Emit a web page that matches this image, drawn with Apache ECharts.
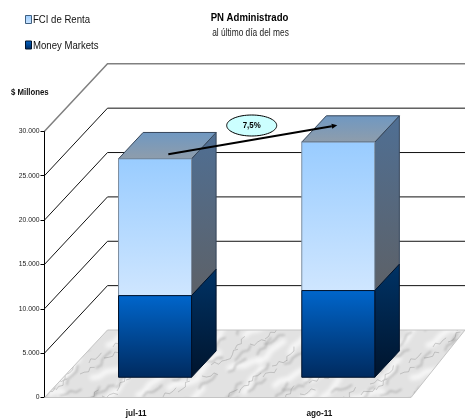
<!DOCTYPE html>
<html><head><meta charset="utf-8">
<style>html,body{margin:0;padding:0;background:#fff}#c{width:465px;height:420px}</style>
<script src="https://cdn.jsdelivr.net/npm/echarts@6/dist/echarts.min.js"></script>
</head><body><div id="c"></div>
<script>
var categories = ['jul-11', 'ago-11'];
var moneyMarkets = [9200, 9770];
var fciRenta = [15420, 16730];
var yTicks = [0, 5000, 10000, 15000, 20000, 25000, 30000];
var seriesNames = ['FCI de Renta', 'Money Markets'];
var titleText = 'PN Administrado';
var subtitleText = 'al último día del mes';
var yAxisName = '$ Millones';
var growthLabel = '7,5%';

var FONT = '"Liberation Sans",Arial,sans-serif';
var NARROW = 0.82;
var DEPTH_X = 63, DEPTH_Y = 67.5, BAR_NEAR = 0.3, BAR_FAR = 0.69, BAR_W = 73;

function grad(a, b) { return new echarts.graphic.LinearGradient(0,0,0,1,[{offset:0,color:a},{offset:1,color:b}]); }

function marble() {
  var c = document.createElement('canvas'); c.width = 320; c.height = 120;
  var g = c.getContext('2d');
  g.fillStyle = '#e2e2e2'; g.fillRect(0,0,320,120);
  function veins(count, col, width, seg, len, wob, a, b) {
    g.strokeStyle = col; g.lineWidth = width;
    for (var n = 0; n < count; n++) {
      var x = (n*a+13)%320, y = (n*b+7)%120, dir = -0.6 + 0.35*Math.sin(n*1.9);
      for (var ox = -320; ox <= 320; ox += 320) {
        for (var oy = -120; oy <= 120; oy += 120) {
          var px = x+ox, py = y+oy, d = dir;
          g.beginPath(); g.moveTo(px,py);
          for (var k = 0; k < seg; k++) { d = dir + wob*Math.sin(n*3.1+k*2.3); px += len*Math.cos(d); py += len*Math.sin(d); g.lineTo(px,py); }
          g.stroke();
        }
      }
    }
  }
  g.filter = 'blur(2px)';
  veins(40, 'rgba(255,255,255,0.8)', 5, 4, 9, 0.3, 61, 43);
  g.filter = 'blur(1.2px)';
  veins(70, 'rgba(140,140,140,0.5)', 1.6, 4, 6, 0.5, 47, 29);
  g.filter = 'blur(0.3px)';
  veins(80, 'rgba(110,110,110,0.5)', 0.6, 4, 4.5, 0.7, 37, 17);
  return c;
}
var marbleTex = marble();

function project(api, cat, frac, depth, val) {
  var p = api.coord([cat, val]);
  return [p[0] + frac * BAR_W / 2 + depth * DEPTH_X, p[1] - depth * DEPTH_Y];
}
function poly(points, fill, edge) { return {type:'polygon', shape:{points:points}, style:{fill:fill, stroke:edge, lineWidth:1}}; }

function prism(api, cat, lo, hi, st) {
  function P(f,d,v){ return project(api,cat,f,d,v); }
  var front=[P(-1,BAR_NEAR,hi),P(1,BAR_NEAR,hi),P(1,BAR_NEAR,lo),P(-1,BAR_NEAR,lo)];
  var side=[P(1,BAR_NEAR,hi),P(1,BAR_FAR,hi),P(1,BAR_FAR,lo),P(1,BAR_NEAR,lo)];
  var top=[P(-1,BAR_NEAR,hi),P(-1,BAR_FAR,hi),P(1,BAR_FAR,hi),P(1,BAR_NEAR,hi)];
  var kids=[poly(side,grad(st.side[0],st.side[1]),st.edge)];
  if (st.top) kids.push(poly(top,grad(st.top[0],st.top[1]),st.edge));
  kids.push(poly(front,grad(st.front[0],st.front[1]),st.frontEdge||st.edge));
  return {type:'group', children:kids};
}

var styleMM = {front:['#0066cc','#002a5e'], side:['#003366','#00142c'], edge:'#00122a'};
var styleFCI = {front:['#99ccff','#cfe6ff'], side:['#4f6f94','#5d6167'], top:['#6f98c2','#8f9dab'], edge:'#36465a', frontEdge:'#7d8ea0'};

var totals = moneyMarkets.map(function(v,i){ return v + fciRenta[i]; });

function narrowText(text, x, y, size, weight, color, align) {
  return {type:'text', x:x, y:y, scaleX:NARROW, silent:true,
    style:{x:0, y:0, text:text, align:align, verticalAlign:'middle', font:weight+' '+size+'px '+FONT, fill:color}};
}

var option = {
  animation:false,
  backgroundColor:'#fff',
  textStyle:{fontFamily:FONT},
  graphic:[
    narrowText(titleText, 249.5, 18, 11.7, 'bold', '#000', 'center'),
    narrowText(subtitleText, 250.5, 33, 10.2, 'normal', '#222', 'center'),
    narrowText(yAxisName, 11, 92, 9.5, 'bold', '#111', 'left'),
    {type:'rect', shape:{x:25.5,y:15.5,width:6,height:8}, silent:true, style:{fill:grad('#99ccff','#cfe6ff'),stroke:'#3f5f80',lineWidth:1}},
    narrowText(seriesNames[0], 33, 20, 11.7, 'normal', '#111', 'left'),
    {type:'rect', shape:{x:25.5,y:41,width:6,height:8}, silent:true, style:{fill:grad('#0066cc','#002a5e'),stroke:'#00122a',lineWidth:1}},
    narrowText(seriesNames[1], 33, 46, 11.7, 'normal', '#111', 'left')
  ],
  grid:{left:44.5, top:131.3, right:54, bottom:22.5, containLabel:false},
  xAxis:{type:'category', data:categories, axisLine:{show:false}, axisTick:{show:false},
    axisLabel:{fontFamily:FONT,fontSize:8.2,fontWeight:'bold',color:'#111',margin:12}, splitLine:{show:false}},
  yAxis:{type:'value', min:0, max:30000, interval:5000,
    axisLine:{show:true,lineStyle:{color:'#000',width:1}},
    axisTick:{show:true,length:4,lineStyle:{color:'#000',width:1}},
    axisLabel:{fontFamily:FONT,fontSize:6.8,color:'#222',margin:5,
      formatter:function(v){ return String(v).replace(/\B(?=(\d{3})+$)/g,'.'); }},
    splitLine:{show:false}},
  series:[
    {type:'custom', name:'floor', silent:true, z:1, data:[[0,0]],
     renderItem:function(params,api){
       var cs=params.coordSys, bottom=api.coord([0,yTicks[0]])[1], l=cs.x, r=cs.x+cs.width;
       return {type:'polygon', shape:{points:[[l,bottom],[r,bottom],[r+DEPTH_X-9,bottom-DEPTH_Y],[l+DEPTH_X,bottom-DEPTH_Y]]},
         style:{fill:{image:marbleTex,repeat:'repeat'},stroke:'#c4c4c4',lineWidth:1}};
     }},
    {type:'custom', name:'walls', silent:true, z:2, data:yTicks.map(function(v){return [0,v];}),
     renderItem:function(params,api){
       var v=api.value(1); if(v===0) return;
       var cs=params.coordSys, y=api.coord([0,v])[1], l=cs.x;
       return {type:'polyline', shape:{points:[[l,y],[l+DEPTH_X,y-DEPTH_Y],[465,y-DEPTH_Y]]},
         style:{fill:null,stroke:v===30000?'#808080':'#111',lineWidth:v===30000?1.5:1}};
     }},
    {type:'custom', name:seriesNames[0], z:3,
     data:fciRenta.map(function(v,i){return [i,moneyMarkets[i],moneyMarkets[i]+v];}),
     renderItem:function(params,api){ return prism(api,api.value(0),api.value(1),api.value(2),styleFCI); }},
    {type:'custom', name:seriesNames[1], z:4,
     data:moneyMarkets.map(function(v,i){return [i,0,v];}),
     renderItem:function(params,api){ return prism(api,api.value(0),api.value(1),api.value(2),styleMM); }},
    {type:'custom', name:'growth', silent:true, z:5, data:[[0,totals[0],1,totals[1]]],
     renderItem:function(params,api){
       var a=project(api,api.value(0),0.25,0.366,api.value(1)), b=project(api,api.value(2),-0.46,0.55,api.value(3));
       var ang=Math.atan2(b[1]-a[1],b[0]-a[0]), h=5.5, w=2.5;
       var bx=b[0]-h*Math.cos(ang), by=b[1]-h*Math.sin(ang);
       return {type:'group',children:[
         {type:'line',shape:{x1:a[0],y1:a[1],x2:bx,y2:by},style:{stroke:'#000',lineWidth:2}},
         {type:'polygon',shape:{points:[b,[bx-w*Math.sin(ang),by+w*Math.cos(ang)],[bx+w*Math.sin(ang),by-w*Math.cos(ang)]]},style:{fill:'#000'}},
         {type:'ellipse',shape:{cx:251.7,cy:125.5,rx:25,ry:10.5},style:{fill:'#ccffff',stroke:'#000',lineWidth:1}},
         {type:'text',x:251.7,y:125.5,scaleX:NARROW,style:{x:0,y:0,text:growthLabel,align:'center',verticalAlign:'middle',font:'bold 9.6px '+FONT,fill:'#000'}}
       ]};
     }}
  ]
};
var chart = echarts.init(document.getElementById('c'));
chart.setOption(option);
</script></body></html>
